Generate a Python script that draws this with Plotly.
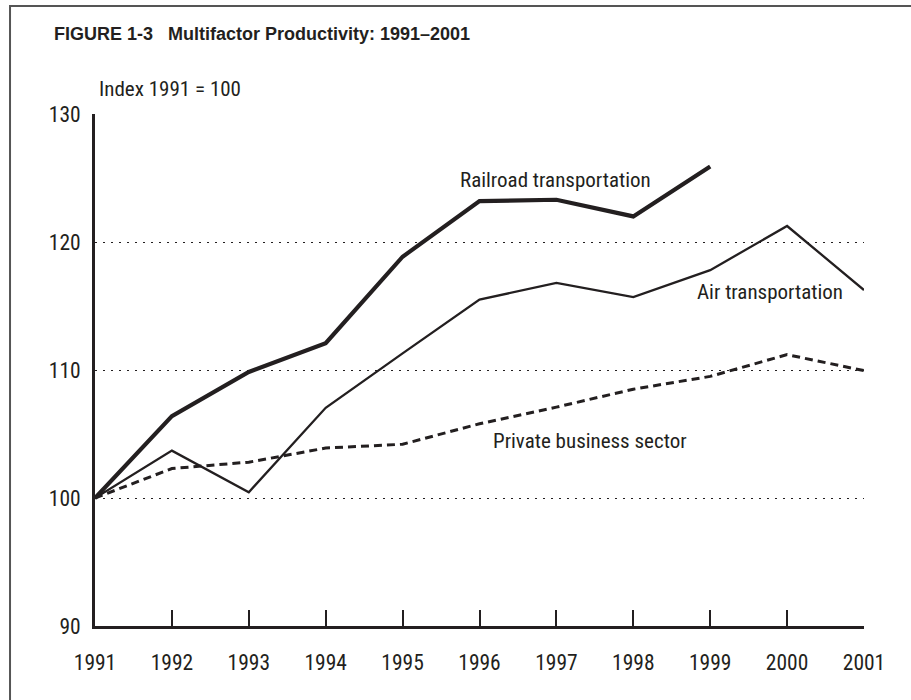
import plotly.graph_objects as go

years = [1991, 1992, 1993, 1994, 1995, 1996, 1997, 1998, 1999, 2000, 2001]
railroad = [100, 106.4, 109.85, 112.1, 118.85, 123.2, 123.3, 122.0, 125.9]
air = [100, 103.7, 100.45, 107.05, 111.3, 115.5, 116.8, 115.7, 117.8, 121.25, 116.25]
private = [100, 102.3, 102.8, 103.9, 104.2, 105.8, 107.1, 108.5, 109.5, 111.2, 109.95]
y_ticks = [90, 100, 110, 120, 130]

INK = "#231f20"
NARROW = "Roboto Condensed, Liberation Sans Narrow, Roboto, sans-serif"

fig = go.Figure()
fig.add_trace(go.Scatter(x=years[:len(railroad)], y=railroad, mode="lines",
                         line=dict(color=INK, width=4.2), name="Railroad transportation"))
fig.add_trace(go.Scatter(x=years, y=air, mode="lines",
                         line=dict(color=INK, width=2.3), name="Air transportation"))
fig.add_trace(go.Scatter(x=years, y=private, mode="lines",
                         line=dict(color=INK, width=3, dash="8px,5px"), name="Private business sector"))

fig.update_layout(
    width=911, height=700,
    margin=dict(l=95, r=47, t=114, b=74),
    paper_bgcolor="white", plot_bgcolor="white",
    showlegend=False,
    font=dict(family=NARROW, size=21, color=INK),
    xaxis=dict(range=[1991, 2001], tickvals=years, ticktext=[str(y) for y in years],
               showgrid=False, zeroline=False, showline=True, linecolor=INK, linewidth=3,
               ticks="inside", ticklen=16, tickwidth=1.5, tickcolor=INK,
               ticklabelstandoff=15, tickfont=dict(family=NARROW, size=21.5, color=INK)),
    yaxis=dict(range=[90, 130], tickvals=y_ticks, showgrid=True, gridcolor=INK, gridwidth=1,
               griddash="2px,6px", zeroline=False, showline=True, linecolor=INK, linewidth=3,
               ticks="", ticklabelstandoff=7, tickfont=dict(family=NARROW, size=21.5, color=INK)),
)

# frame
fig.add_shape(type="rect", xref="paper", yref="paper", x0=-0.1105, x1=1.2, y0=-0.3, y1=1.2109,
              line=dict(color="#555", width=2), fillcolor="rgba(0,0,0,0)", layer="below")

fig.add_annotation(xref="paper", yref="paper", x=-0.0559, y=1.156, xanchor="left", yanchor="middle",
                   text="<b>FIGURE 1-3   Multifactor Productivity: 1991–2001</b>", showarrow=False,
                   font=dict(family="Liberation Sans, Arial, sans-serif", size=18, color=INK))
fig.add_annotation(xref="paper", yref="paper", x=0.0026, y=1.048, xanchor="left", yanchor="middle",
                   text="Index 1991 = 100", showarrow=False, font=dict(family=NARROW, size=21, color=INK))

fig.add_annotation(x=1996.99, y=124.84, text="Railroad transportation", showarrow=False,
                   font=dict(family=NARROW, size=21, color=INK))
fig.add_annotation(x=1999.78, y=116.1, text="Air transportation", showarrow=False,
                   font=dict(family=NARROW, size=21, color=INK))
fig.add_annotation(x=1997.44, y=104.45, text="Private business sector", showarrow=False,
                   font=dict(family=NARROW, size=21, color=INK))

fig.write_html("out.html", config={"displayModeBar": False},
               post_script="document.body.style.margin='0';")
